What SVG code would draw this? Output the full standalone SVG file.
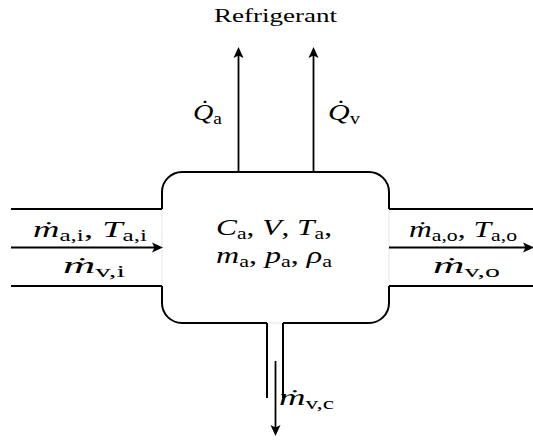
<svg xmlns="http://www.w3.org/2000/svg" width="533" height="440" viewBox="0 0 533 440">
<style>
  .wall{fill:none;stroke:#000;stroke-width:2;stroke-linejoin:round}
  .gap{fill:none;stroke:#e6e6e6;stroke-width:1}
  .arr{fill:none;stroke:#000;stroke-width:1.8;marker-end:url(#ah)}
  text{font-family:"Liberation Serif","DejaVu Serif",serif;fill:#000}
  .m{font-size:24px}
  .v{font-style:italic}
  .s{font-size:16.5px;font-style:normal}
  .t{font-size:19px}
</style>
<defs>
  <marker id="ah" markerUnits="userSpaceOnUse" markerWidth="14" markerHeight="12" refX="4" refY="0" viewBox="0 -6 12 12" orient="auto" overflow="visible">
    <path d="M0,-5 L11,0 L0,5 L2.5,0 Z" fill="#000"/>
  </marker>
</defs>
<g id="volume">
  <path class="wall" d="M162,209 V192 A20,20 0 0 1 182,172 H369 A20,20 0 0 1 389,192 V209"/>
  <path class="wall" d="M389,286 V303 A20,20 0 0 1 369,323 H283"/>
  <path class="wall" d="M267,323 H182 A20,20 0 0 1 162,303 V286"/>
  <path class="gap" d="M162,209 V286 M389,209 V286 M267,323 H283"/>
  <text class="m" x="216" y="235" textLength="116" lengthAdjust="spacingAndGlyphs"><tspan class="v">C</tspan><tspan class="s" dy="3.5">a</tspan><tspan dy="-3.5">, </tspan><tspan class="v">V</tspan><tspan>, </tspan><tspan class="v">T</tspan><tspan class="s" dy="3.5">a</tspan><tspan dy="-3.5">,</tspan></text>
  <text class="m" x="216" y="263" textLength="116" lengthAdjust="spacingAndGlyphs"><tspan class="v">m</tspan><tspan class="s" dy="3.5">a</tspan><tspan dy="-3.5">, </tspan><tspan class="v">p</tspan><tspan class="s" dy="3.5">a</tspan><tspan dy="-3.5">, </tspan><tspan class="v">ρ</tspan><tspan class="s" dy="3.5">a</tspan></text>
</g>
<g id="inlet">
  <path class="wall" d="M11,209 H162 M11,286 H162"/>
  <text class="m" x="33" y="237" textLength="114" lengthAdjust="spacingAndGlyphs"><tspan class="v">ṁ</tspan><tspan class="s" dy="3.5">a,i</tspan><tspan dy="-3.5">, </tspan><tspan class="v">T</tspan><tspan class="s" dy="3.5">a,i</tspan></text>
  <text class="m" x="63" y="273" textLength="62" lengthAdjust="spacingAndGlyphs"><tspan class="v">ṁ</tspan><tspan class="s" dy="3.5">v,i</tspan></text>
</g>
<g id="outlet">
  <path class="wall" d="M389,209 H533 M389,286 H533"/>
  <text class="m" x="409" y="237" textLength="108" lengthAdjust="spacingAndGlyphs"><tspan class="v">ṁ</tspan><tspan class="s" dy="3.5">a,o</tspan><tspan dy="-3.5">, </tspan><tspan class="v">T</tspan><tspan class="s" dy="3.5">a,o</tspan></text>
  <text class="m" x="433" y="273" textLength="67" lengthAdjust="spacingAndGlyphs"><tspan class="v">ṁ</tspan><tspan class="s" dy="3.5">v,o</tspan></text>
</g>
<g id="drain">
  <path class="wall" d="M267,323 V398 M283,323 V398"/>
  <text class="m" x="279" y="405" textLength="55" lengthAdjust="spacingAndGlyphs"><tspan class="v">ṁ</tspan><tspan class="s" dy="3.5">v,c</tspan></text>
</g>
<g id="refrigerant">
  <text class="t" x="214" y="22" textLength="123" lengthAdjust="spacingAndGlyphs">Refrigerant</text>
  <text class="m" x="193" y="120" textLength="29" lengthAdjust="spacingAndGlyphs"><tspan class="v">Q̇</tspan><tspan class="s" dy="3.5">a</tspan></text>
  <text class="m" x="328" y="120" textLength="32" lengthAdjust="spacingAndGlyphs"><tspan class="v">Q̇</tspan><tspan class="s" dy="3.5">v</tspan></text>
</g>
<g id="connectors">
  <path class="arr" d="M11,247.5 H156"/>
  <path class="arr" d="M389,247.5 H527"/>
  <path class="arr" d="M238.5,172 V54"/>
  <path class="arr" d="M313.5,172 V54"/>
  <path class="arr" d="M275.5,361 V429"/>
</g>
</svg>
